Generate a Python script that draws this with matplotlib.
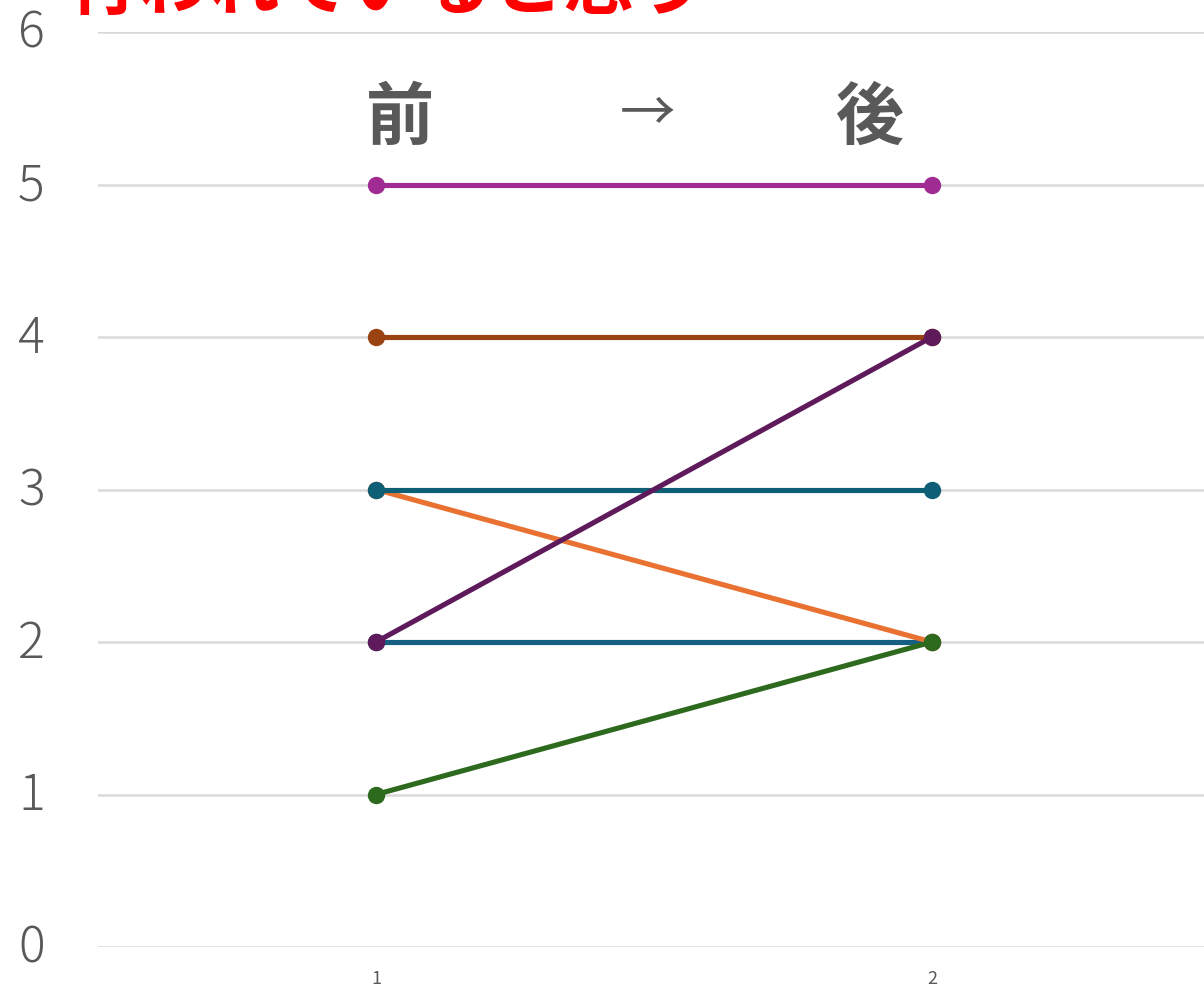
import matplotlib
matplotlib.use("Agg")
import matplotlib.pyplot as plt
from matplotlib.transforms import ScaledTranslation

plt.rcParams['font.family'] = ['Noto Sans CJK JP', 'DejaVu Sans']

# data: value before (x=1) and after (x=2), in drawing order
before = [2, 3, 1, 5, 4, 3, 2]
after = [2, 2, 2, 5, 4, 3, 4]
colors = ['#156082', '#E97132', '#2D6A1E', '#A02B93', '#9A4211', '#0E5F75', '#5F1A5C']
x_cats = [1, 2]
y_ticks = [0, 1, 2, 3, 4, 5, 6]
title = '行われていると思う'

W, H = 1204, 987
fig = plt.figure(figsize=(W / 100, H / 100), dpi=100)
# axes box in pixels: left 98, top 33, bottom 948, runs past the right edge
ax = fig.add_axes([98 / W, 1 - 948 / H, 1112 / W, (948 - 33) / H])

for b, a, c in zip(before, after, colors):
    ax.plot(x_cats, [b, a], color=c, lw=3.7, marker='o', ms=11.5,
            solid_capstyle='butt', zorder=3)

ax.set_xlim(0.5, 2.5)
ax.set_ylim(0, 6)
ax.set_yticks(y_ticks)
ax.set_xticks(x_cats)
ax.set_xticklabels([str(v) for v in x_cats])
ax.grid(axis='y', color='#D9D9D9', lw=1.8, zorder=0)
for s in ax.spines.values():
    s.set_visible(False)
ax.tick_params(axis='both', length=0)
ax.tick_params(axis='y', labelsize=36, labelcolor='#595959', pad=0)
ax.tick_params(axis='x', labelsize=13, labelcolor='#595959', pad=16)
up = ScaledTranslation(0, 5 / 100, fig.dpi_scale_trans)
for lbl in ax.get_yticklabels():
    lbl.set_fontweight('light')
    lbl.set_horizontalalignment('left')
    lbl.set_x(-80 / 1112)
    lbl.set_transform(lbl.get_transform() + up)

# 前 → 後 header inside the plot (positions in pixels from the top-left)
def px(x, y):
    return (x - 98) / 1112, 1 - (y - 33) / 915

ax.text(*px(400, 119), '前', transform=ax.transAxes, fontsize=49,
        fontweight='bold', color='#595959', ha='center', va='center')
ax.text(*px(648, 114), '→', transform=ax.transAxes, fontsize=40,
        color='#595959', ha='center', va='center')
ax.text(*px(870, 119), '後', transform=ax.transAxes, fontsize=49,
        fontweight='bold', color='#595959', ha='center', va='center')

# red title, cut off at the top edge
fig.text(68 / W, 1 - 9 / H, title, fontsize=51, fontweight='bold',
         color='#FF0000', ha='left', va='baseline')

fig.savefig('out.png', dpi=100)
